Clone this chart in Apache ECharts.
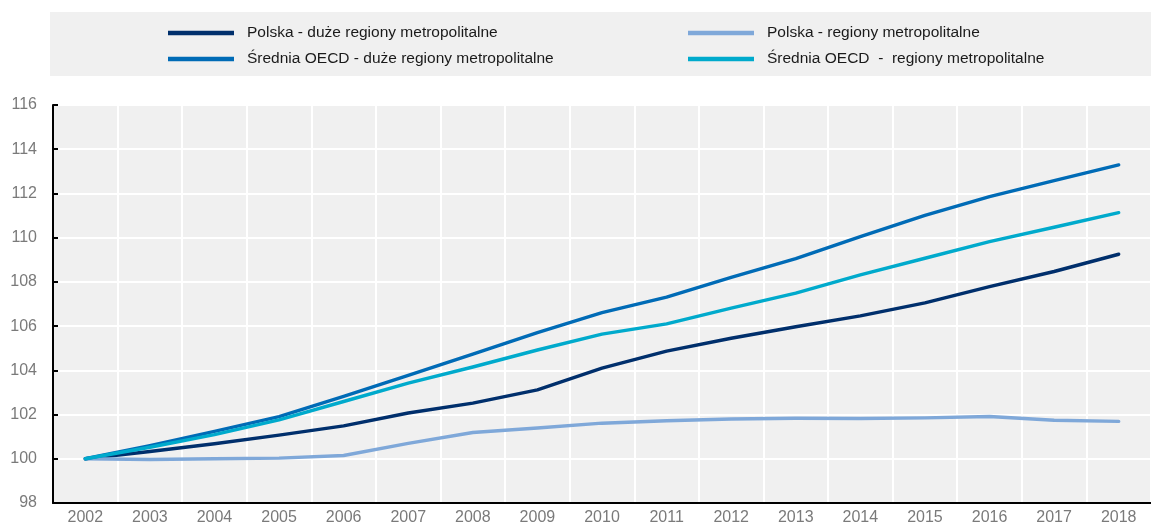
<!DOCTYPE html>
<html>
<head>
<meta charset="utf-8">
<script src="https://cdn.jsdelivr.net/npm/echarts@6/dist/echarts.min.js"></script>
<style>
html,body{margin:0;padding:0;background:#fff;}
#c{width:1151px;height:527px;}
</style>
</head>
<body>
<div id="c"></div>
<script>
const years = ['2002','2003','2004','2005','2006','2007','2008','2009','2010','2011','2012','2013','2014','2015','2016','2017','2018'];
const polskaDuze = [100, 100.33, 100.68, 101.07, 101.49, 102.07, 102.52, 103.12, 104.1, 104.87, 105.45, 105.97, 106.46, 107.05, 107.79, 108.47, 109.25];
const polskaMetro = [100, 99.97, 100.0, 100.03, 100.15, 100.7, 101.19, 101.39, 101.61, 101.72, 101.8, 101.83, 101.82, 101.85, 101.91, 101.74, 101.69];
const oecdDuze = [100, 100.59, 101.24, 101.91, 102.82, 103.77, 104.73, 105.71, 106.61, 107.31, 108.2, 109.05, 110.05, 111.01, 111.86, 112.58, 113.29];
const oecdMetro = [100, 100.52, 101.09, 101.76, 102.59, 103.42, 104.15, 104.92, 105.64, 106.1, 106.81, 107.49, 108.32, 109.07, 109.82, 110.47, 111.13];
const names = ['Polska - duże regiony metropolitalne','Polska - regiony metropolitalne','Średnia OECD - duże regiony metropolitalne','Średnia OECD  -  regiony metropolitalne'];
const colors = ['#002F6C','#7FA8D9','#006BB6','#00AACC'];

const FONT = '"Liberation Sans",Arial,sans-serif';
const chart = echarts.init(document.getElementById('c'), null, {renderer:'canvas'});
const legendCommon = {
  orient:'vertical', top:23, padding:0, itemWidth:66, itemHeight:4.5, itemGap:6, icon:'rect',
  textStyle:{fontFamily:FONT, fontSize:15.5, color:'#1a1a1a', lineHeight:20, padding:[0,0,0,8]},
  selectedMode:false
};
function mk(i, data){
  return {name:names[i], type:'line', data:data, symbol:'none', smooth:false,
    lineStyle:{color:colors[i], width:3.4, cap:'round', join:'round'},
    itemStyle:{color:colors[i]}};
}
chart.setOption({
  animation:false,
  graphic:[{type:'rect', left:50, top:12, shape:{width:1101, height:64}, style:{fill:'#f0f0f0'}, z:-10}],
  legend:[
    Object.assign({left:168, data:[names[0], names[2]]}, legendCommon),
    Object.assign({left:688, data:[names[1], names[3]]}, legendCommon)
  ],
  grid:{left:53, top:105, width:1109, height:398, show:true, backgroundColor:'#f0f0f0', borderWidth:0},
  xAxis:{type:'category', data:years, boundaryGap:true,
    axisLine:{lineStyle:{color:'#000', width:2}},
    axisTick:{inside:true, length:6, lineStyle:{color:'#000', width:2}},
    axisLabel:{fontFamily:FONT, fontSize:16, color:'#7a7a7a', margin:7},
    splitLine:{show:true, lineStyle:{color:'#ffffff', width:2}}},
  yAxis:{type:'value', min:98, max:116, interval:2,
    axisLine:{show:true, lineStyle:{color:'#000', width:2}},
    axisTick:{show:true, inside:true, length:5, lineStyle:{color:'#000', width:2}},
    axisLabel:{fontFamily:FONT, fontSize:16, color:'#7a7a7a', margin:16},
    splitLine:{show:true, lineStyle:{color:'#ffffff', width:2}}},
  series:[mk(0, polskaDuze), mk(1, polskaMetro), mk(2, oecdDuze), mk(3, oecdMetro)]
});
</script>
</body>
</html>
